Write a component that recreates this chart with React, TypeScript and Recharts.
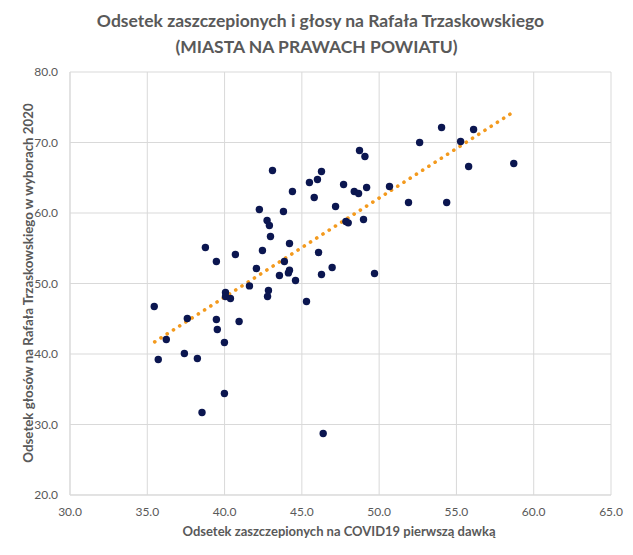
import React from 'react';
import { ScatterChart, Scatter, XAxis, YAxis, CartesianGrid, ReferenceLine } from 'recharts';

// share vaccinated with first dose (%)
const vaccinated = [
  43.1, 46.27, 45.49, 46.01, 44.39, 45.8, 47.18, 42.25, 43.81, 42.75,
  42.9, 42.97, 38.76, 44.2, 46.08, 46.96, 39.47, 40.7, 42.45, 43.87,
  42.06, 43.55, 44.2, 44.13, 44.59, 46.27, 41.61, 42.84, 42.78, 40.06,
  40.06, 40.38, 45.3, 35.45, 54.04, 56.11, 52.62, 55.27, 48.73, 49.08,
  55.79, 58.71, 47.7, 48.39, 48.67, 49.19, 50.67, 51.9, 54.37, 47.85,
  48.0, 48.99, 49.7, 37.59, 36.23, 39.47, 39.53, 40.94, 39.99, 35.71,
  37.4, 38.24, 39.99, 38.54, 46.38,
];

// share of votes for Trzaskowski 2020 (%)
const votes = [
  66.03, 65.89, 64.33, 64.75, 63.05, 62.2, 60.92, 60.5, 60.21, 58.94,
  58.23, 56.67, 55.11, 55.67, 54.4, 52.27, 53.12, 54.11, 54.68, 53.12,
  52.13, 51.13, 51.89, 51.5, 50.43, 51.28, 49.66, 49.0, 48.16, 48.72,
  48.16, 47.87, 47.45, 46.74, 72.13, 71.84, 70.0, 70.14, 68.87, 68.01,
  66.6, 67.02, 64.04, 63.05, 62.77, 63.62, 63.76, 61.49, 61.49, 58.8,
  58.6, 59.08, 51.42, 45.03, 42.06, 44.89, 43.48, 44.61, 41.63, 39.22,
  40.07, 39.36, 34.4, 31.7, 28.72,
];

// linear trendline end points
const trendX = [35.48, 58.64];
const trendY = [41.72, 74.26];

const xTicks = [30, 35, 40, 45, 50, 55, 60, 65];
const yTicks = [20, 30, 40, 50, 60, 70, 80];

const points = vaccinated.map((x, i) => ({ x, y: votes[i] }));

const font = 'Lato, "Liberation Sans", sans-serif';
const textColor = '#595959';

const Dot = (props: any) => <circle cx={props.cx} cy={props.cy} r={3.7} fill="#0B1650" />;

export default function App() {
  return (
    <div style={{ position: 'absolute', left: 0, top: 0, width: 633, height: 555, background: 'white', fontFamily: font }}>
      <div style={{
        position: 'absolute', left: 0, top: 8, width: 633, textAlign: 'center',
        color: textColor, fontWeight: 'bold', fontSize: '17.5px', lineHeight: '26px'
      }}>
        <div style={{ paddingLeft: 8 }}>Odsetek zaszczepionych i głosy na Rafała Trzaskowskiego</div>
        <div style={{ paddingLeft: 0 }}>(MIASTA NA PRAWACH POWIATU)</div>
      </div>
      <div style={{
        position: 'absolute', left: 28, top: 283, width: 400, marginLeft: -200, marginTop: -10,
        height: 20, lineHeight: '20px', textAlign: 'center', transform: 'rotate(-90deg)',
        color: textColor, fontWeight: 'bold', fontSize: '13.3px', whiteSpace: 'nowrap'
      }}>
        Odsetek głosów na Rafała Trzaskowskiego w wyborach 2020
      </div>
      <div style={{
        position: 'absolute', left: 0, top: 521, width: 678, textAlign: 'center',
        color: textColor, fontWeight: 'bold', fontSize: '13px', lineHeight: '20px'
      }}>
        Odsetek zaszczepionych na COVID19 pierwszą dawką
      </div>
      <div style={{ position: 'absolute', left: 0, top: 0 }}>
        <ScatterChart width={633} height={555} margin={{ top: 72, right: 22, bottom: 30, left: 20 }}>
          <CartesianGrid stroke="#d9d9d9" strokeWidth={1} />
          <XAxis
            type="number"
            dataKey="x"
            domain={[30, 65]}
            ticks={xTicks}
            tickFormatter={(v: number) => v.toFixed(1)}
            tickLine={false}
            axisLine={{ stroke: '#d9d9d9' }}
            tick={{ fill: textColor, fontSize: 12, fontFamily: font }}
            height={30}
            tickMargin={6}
          />
          <YAxis
            type="number"
            dataKey="y"
            domain={[20, 80]}
            ticks={yTicks}
            tickFormatter={(v: number) => v.toFixed(1)}
            tickLine={false}
            axisLine={{ stroke: '#d9d9d9' }}
            tick={{ fill: textColor, fontSize: 12, fontFamily: font }}
            width={50}
            tickMargin={6}
          />
          <Scatter data={points} shape={Dot} isAnimationActive={false} />
          <ReferenceLine
            segment={[{ x: trendX[0], y: trendY[0] }, { x: trendX[1], y: trendY[1] }]}
            stroke="#F39A1E"
            strokeWidth={3.6}
            strokeDasharray="0.1 7.3"
            strokeLinecap="round"
            ifOverflow="visible"
          />
        </ScatterChart>
      </div>
    </div>
  );
}
